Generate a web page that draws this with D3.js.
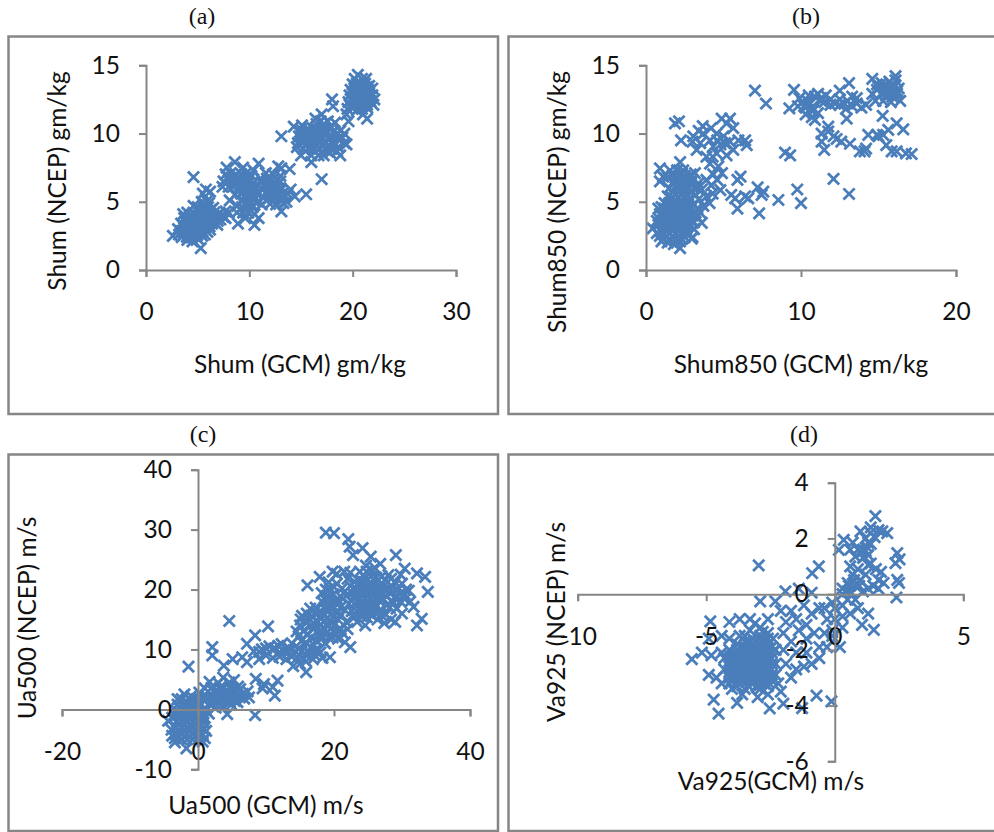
<!DOCTYPE html>
<html><head><meta charset="utf-8">
<script src="https://cdn.jsdelivr.net/npm/d3@7"></script>
<style>html,body{margin:0;padding:0;background:#fff}svg{display:block}</style>
</head><body><svg id="c" width="994" height="832"></svg>
<script>
const shumPoints=[[4.6,6.8],[5.3,1.6],[2.6,2.5],[5.8,5.9],[6.2,5.75],[8.6,7.9],[7.8,7.5],[10.9,7.8],[10.4,7.3],[13.1,9.8],[17,6.65],[15.5,5.55],[14.4,5.4],[13.9,7.4],[13.1,7.45],[12.8,7.6],[13.1,4.3],[10.5,3.3],[10.9,3.8],[8.9,3.4],[8.1,5.1],[16,7.9],[14.3,10.5],[15.1,10.6],[16.4,11.1],[17,11.4],[18,12.5],[18.1,12],[19.6,10.9],[21.4,11.1],[18.8,8.4],[19.4,9.2],[20.5,14.3],
[4,2.2],[4.5,2.1],[5,2.3],[3.2,2.6],[3.7,2.7],[4.2,2.6],[4.7,2.5],[5.2,2.7],[5.7,2.6],[3.1,3],[3.7,3.1],[4.2,3],[4.7,3.05],[5.2,3],[5.7,3.1],[6.2,2.95],[3.4,3.4],[3.9,3.45],[4.4,3.4],[4.9,3.4],[5.4,3.45],[5.9,3.35],[6.4,3.4],[6.9,3.3],[3.7,3.8],[4.2,3.85],[4.7,3.8],[5.2,3.8],[5.7,3.85],[6.2,3.75],[6.7,3.8],[7.2,3.7],[7.7,3.8],[3.6,4.1],[4,4.2],[4.6,4.2],[5.1,4.25],[5.6,4.2],[6.1,4.2],[6.6,4.2],[7.1,4.15],[7.7,4.3],[4.6,4.7],[5,4.6],[5.5,4.65],[6,4.6],[6.5,4.55],[5.4,5],[5.9,5.05],[5.5,5.6],
[7.5,6.5],[8,6.6],[8.5,6.5],[9,6.4],[9.5,6.5],[10,6.4],[7.7,7],[8.2,7.1],[8.7,7],[9.2,7.05],[9.7,7.1],[10.2,6.9],[9.4,7.5],[8.4,6.1],[9,6],[9.5,6],[10,6],[10.5,6.1],[9.2,5.6],[9.7,5.55],[10.2,5.6],[10.7,5.6],[9.4,5.1],[9.9,5.15],[10.4,5.1],[10.8,5],[8.8,4.7],[9.3,4.6],[9.8,4.7],[10.3,4.6],[9.4,4.2],[9.9,4.2],[10.5,4.1],[11.2,6.4],[11.4,5.3],[7.5,3.9],[8,4.2],
[11.2,6.6],[11.7,6.7],[12.2,6.6],[12.7,6.6],[13,6.5],[11.5,6.1],[12,6.15],[12.5,6.2],[13,6],[11.7,5.7],[12.2,5.7],[12.7,5.65],[13.2,5.6],[13.7,5.6],[11.9,5.25],[12.4,5.2],[12.9,5.2],[13.4,5.3],[12,4.85],[12.6,4.8],[13.3,4.9],
[14.8,9.8],[15.3,9.9],[15.8,9.8],[16.3,9.9],[16.8,9.8],[17.3,9.9],[17.8,9.8],[15,10.3],[15.6,10.3],[16.1,10.4],[16.6,10.3],[17.2,10.4],[17.7,10.4],[18.2,10.2],[14.7,9.3],[15.3,9.4],[15.8,9.4],[16.3,9.3],[16.8,9.4],[17.3,9.3],[18,9.4],[18.6,9.6],[19,9.7],[15.2,8.9],[15.7,8.9],[16.2,8.8],[16.8,8.9],[17.4,8.8],[18,8.9],[19.2,9.3],[15,8.4],[16.7,8.4],[17.8,8.6],[16.9,10.9],[17.6,10.9],[18.3,10.8],[18.6,9],
[19.5,11.8],[20,11.9],[20.4,11.7],[20.9,11.8],[21.4,11.9],[19.6,12.3],[20,12.4],[20.4,12.3],[20.8,12.4],[21.2,12.3],[21.7,12.4],[22,12.1],[19.7,12.8],[20.2,12.8],[20.6,12.85],[21,12.8],[21.4,12.75],[21.9,12.8],[22.1,12.5],[19.8,13.2],[20.2,13.25],[20.6,13.2],[21,13.25],[21.5,13.2],[21.9,13.3],[20,13.6],[20.4,13.65],[20.8,13.6],[21.2,13.65],[21.6,13.5],[20.2,14],[20.9,14],[21.3,14],[19.4,11.4],[21,11.4],
[3.45,2.4],[3.95,2.45],[4.45,2.4],[4.95,2.55],[5.45,2.5],[3.45,2.85],[3.95,2.85],[4.45,2.8],[4.95,2.8],[5.45,2.85],[5.95,2.8],[3.65,3.25],[4.15,3.2],[4.65,3.25],[5.15,3.2],[5.65,3.25],[6.15,3.2],[3.95,3.65],[4.45,3.6],[4.95,3.6],[5.45,3.65],[5.95,3.6],[6.45,3.6],[6.95,3.6],[4.3,4],[4.85,4],[5.35,4],[5.85,4],[6.35,4],[6.85,4],[7.4,4],[5.25,4.45],[5.75,4.4],[6.25,4.4],[5.65,4.85],[6.1,4.9],
[19.8,12],[20.2,12.1],[20.6,12.05],[21,12.05],[21.4,12.1],[19.9,12.55],[20.4,12.55],[20.8,12.6],[21.2,12.55],[21.6,12.6],[20,13],[20.4,13],[20.8,13.05],[21.2,13],[21.6,13],[20.2,13.45],[20.6,13.4],[21,13.45],[21.4,13.4],
[15.5,10],[16,10.1],[16.5,10.05],[17,10.1],[17.5,10.1],[15.1,9.6],[15.6,9.6],[16.1,9.6],[16.6,9.55],[17.1,9.6],[17.6,9.6],[15.5,9.15],[16,9.1],[16.5,9.1],[17.1,9.1],[17.7,9.1],[18.3,9.2],[16.5,10.7],[17.2,10.7],[17.9,10.5],
[8,6.8],[8.5,6.8],[9,6.75],[9.5,6.8],[10,6.7],[9.2,6.2],[9.7,6.25],[10.2,6.2],[9.5,5.8],[10,5.8],[10.4,5.85],[9.6,5.35],[10.1,5.35],[10.6,5.3],[9.6,4.9],[10.1,4.9],[11.9,6.4],[12.4,6.4],[12,5.95],[12.5,5.9],[12.9,5.8],[12.5,5.45],[13,5.45],
[14.6,9],[15,9.8],[18.4,9.9],[18.8,10.2],[19.2,10],[14.9,10.1],[18.5,8.7],[17.2,8.4],[16,8.4],[10.9,5.6],[11.1,6],[11.2,4.8],[14,5.9],[13.6,5],[13,6.9],[12.3,7],[11.6,7.1],[8,6.1],[7.4,6.1],[8.6,5.5],[8.8,4.2],[9.6,3.8]];

const shum850Points=[[7.03,13.15],[7.74,12.2],[9.55,13.2],[9.25,11.85],[8.97,8.6],[9.3,8.4],[8.54,5.13],[9.76,5.9],[10,4.9],[12.1,6.67],[13.1,5.57],[7.3,4.15],[7.2,6.05],[7.57,5.75],[7.46,5.5],[6.6,5.25],[6.4,5.4],[5.9,4.5],[5.75,5.25],[5.5,5.5],[5.9,6.6],[6.1,6.85],[4.8,5.85],[3.6,3.45],[2.95,2.3],[2.2,1.6],[0.43,3.05],
[1.87,10.75],[2.13,10.9],[2.26,9.5],[3.66,10.55],[3.4,10.2],[3.05,9.8],[3.27,8.8],[3.7,10],[4.13,9.5],[3.9,8.3],[4.34,9.05],[4.56,10],[4.88,11.1],[5.42,11.1],[5.2,10.75],[5.63,10.4],[5,9.8],[5.42,9.4],[5.63,8.8],[5.96,9.5],[6.4,9.5],[6.5,9.15],[4.56,8.55],[4.13,7.8],[4.67,7.6],[4.9,7.1],[4.34,7],[3.9,6.6],[3.16,7.1],[3.38,6.35],[3,9.4],[3.5,9.3],[4.8,9.2],[0.9,7.45],[1.1,6.85],[0.9,6.5],[1.55,7.3],[2.2,7.9],[0.8,4.5],[3.6,5.9],[3.4,5.2],[3.9,5.4],[4.1,4.9],[3.3,4.5],[3.7,4.7],[3,4],[4.3,5.6],
[1,2.1],[1.4,2],[1.8,1.9],[2.2,2.1],[2.5,2.4],[0.9,2.5],[1.3,2.5],[1.7,2.4],[2.1,2.5],[2.6,2.7],[0.9,2.9],[1.3,2.9],[1.7,2.85],[2.1,2.9],[2.6,3],[0.8,3.3],[1.2,3.3],[1.6,3.25],[2,3.3],[2.4,3.3],[2.8,3.4],[0.9,3.7],[1.3,3.7],[1.7,3.7],[2.1,3.7],[2.5,3.7],[2.9,3.6],[1,4.1],[1.4,4.1],[1.8,4.1],[2.2,4.1],[2.6,4.1],[1.2,4.5],[1.6,4.5],[2,4.5],[2.4,4.5],[2.8,4.4],[1.5,4.9],[1.9,4.9],[2.3,4.9],[2.7,4.85],[1.7,5.3],[2.1,5.3],[2.5,5.3],[2.9,5.2],[1.7,5.7],[2.1,5.7],[2.5,5.7],[2.9,5.7],[1.9,6.1],[2.3,6.1],[2.7,6.1],[1.8,6.5],[2.2,6.5],[2.6,6.5],[2.9,6.4],[1.7,6.9],[2.1,6.9],[2.5,6.9],[2.9,7],[2,7.3],[2.4,7.3],
[9.8,12],[10.1,12.3],[10.3,11.9],[10.6,12.2],[10.8,11.7],[10.3,11.4],[10.7,11.2],[10.9,11],[11.1,11.5],[9.9,12.6],[10.5,12.8],[10.9,12.7],[11.1,12.9],[11.3,12.6],[11.6,12.8],[11.5,12.3],[11.9,12.1],[12.2,12.2],[12.5,12.1],[12.8,12.2],[13,12.4],[13.3,12],[13.6,12.2],[13.9,11.9],[14.2,12.1],[12.5,13.15],[13.1,13.7],[13.3,12.7],[14.6,14],[14.6,12.9],[14.9,13.2],[15.2,12.9],[15.5,12.8],[15.9,12.7],[16.2,12.9],[16.4,12.4],[15.4,13.3],[15.7,13.3],[16,13.4],[16.3,13.3],[15.2,13.7],[15.7,13.8],[16.1,13.9],[16.1,14.2],[14.9,13.6],
[15.27,11.3],[12.95,11.1],[16.17,10.75],[16.6,10.3],[15.63,10.27],[15.3,9.9],[14.9,9.9],[14.34,9.9],[15.5,9.15],[15.85,8.7],[16.17,8.7],[16.77,8.55],[17.14,8.5],[13.8,8.7],[14.2,8.9],[13.16,9.25],[12.6,9.4],[12.1,9.8],[11.76,10.5],[11.33,10],[11.5,8.8],[11.33,9.4],[11.76,10.15],[12.3,9.6],[14.1,8.7],[15,9.8],
[1.15,2.3],[1.5,2.25],[1.9,2.2],[2.3,2.3],[1.1,2.7],[1.5,2.7],[1.9,2.65],[2.35,2.7],[1.1,3.1],[1.5,3.1],[1.9,3.1],[2.3,3.1],[2.7,3.2],[1,3.5],[1.4,3.5],[1.8,3.5],[2.2,3.5],[2.6,3.5],[1.15,3.9],[1.55,3.9],[1.95,3.9],[2.35,3.9],[2.75,3.85],[1.3,4.3],[1.7,4.3],[2.1,4.3],[2.5,4.3],[1.8,4.7],[2.2,4.7],[2.6,4.7],[1.9,5.1],[2.3,5.1],[2.7,5.1],[1.9,5.5],[2.3,5.5],[2.7,5.5],[2.1,5.9],[2.5,5.9],[2.1,6.3],[2.5,6.3],[2,6.7],[2.4,6.7],[2.3,7.1],[15.5,13.1],[15.9,13],[16.2,13.1],[15.3,13.5],[15.9,13.55],
[3,2.4],[3.1,3],[3.1,3.5],[3.2,4.2],[3.3,3.9],[3.5,4.2],[3.1,4.8],[3.2,5.5],[3.1,6],[3,6.6],[3.3,6],[0.7,2.7],[0.7,3.6],[0.9,4.1],[1,4.6],[1.2,4.9],[1.4,5.4],[1.5,6],[1.4,6.8],[10.4,12.4],[10.2,12],[10.6,11.8],[11.3,12.4],[11.9,12.5],[12.5,12.5],[12.9,11.8],[13.6,12.6],[14.8,12.4],[15.3,12.4],[15.8,12.3],[15,13.4],[4.2,10.4],[4.3,8.3],[4.6,9.5],[5.2,8.4],[5.1,9.3],[4.2,6.2],[4.6,6.6]];

const ua500Points=[[-1.4,7.15],[4.6,14.75],[2.1,10.4],[2.1,9],[10.3,13.85],[8.4,12.35],[7.2,10.95],[8.4,-0.95],[18.8,29.5],[20,29.4],[22.1,28.4],[22.3,27.15],[24.2,26.9],[29.1,25.75],[22.8,25.75],[17.9,22.1],[16.1,20.7],[33.8,19.6],[33.4,22.1],[32.2,22.7],[30.4,23.5],[32.9,15.1],[32.2,14],[31.7,17.1],[29,14.6],[22.4,10.4],[19.4,8.7],[15.9,6.2],[3.8,7.3],[6.5,8.7],[5.1,8.4],[7.2,7.9],[8.5,5.1],[9.7,4.2],[11.7,4.8],[11,3.7],[11.3,2.3],[9.5,3.5],[-1.7,-6.5],[-4.4,-1.9],[-3.4,-5.5],
[-3,1.7],[-2,2.5],[-1,2.2],[-3,0.8],[-2.2,0.9],[-1.4,1],[-0.6,0.9],[0.2,1],[-3.2,-0.2],[-2.4,-0.1],[-1.6,0],[-0.8,0],[0,-0.1],[0.8,0],[-3.3,-1.1],[-2.5,-1],[-1.7,-1],[-0.9,-1],[-0.1,-1.1],[0.7,-1],[-3.1,-2],[-2.3,-2],[-1.5,-2],[-0.7,-2],[0.1,-2.1],[-3.2,-3],[-2.4,-3],[-1.6,-3],[-0.8,-3],[0,-3],[0.8,-3.3],[-3.3,-4],[-2.5,-4],[-1.7,-4],[-0.9,-4],[-0.1,-4],[0.7,-4.2],[-3.4,-4.8],[-2.4,-5],[-1.6,-5],[-0.8,-5],[0.1,-4.9],[0.7,-5.4],
[0.2,2.8],[1,3.5],[1.7,4.6],[2.4,2],[3,2.9],[3.8,3.6],[4.5,2.8],[5.2,3.1],[5.8,2.3],[6.6,2.6],[7.3,3],[2.9,1.4],[3.6,1.9],[4.3,1.6],[5,1.8],[5.8,1.2],[1.8,0.8],[2.6,0.3],[4.3,-0.8],[3.6,0.5],[4.9,0.8],[3,4.4],[3.7,5.3],[4.6,4.5],[5.3,4.9],[4.1,2.6],[3.2,3.6],[2,3.6],[1.6,-0.7],[0.7,-1.5],[4.7,3.7],[5.9,3.8],
[8.2,9.7],[9,8.4],[9.4,10],[10,9],[10.5,10.5],[11,8.6],[11.3,10.2],[12,9.5],[12.3,10.9],[13,8.4],[13.3,9.6],[13.8,11],[14,7.2],[14.6,8.6],[15,7.6],[15.2,9.6],[15.9,8],[16.4,9.4],[16.9,8.4],[17.4,10],[18,9.5],[18.3,8.6],[14.8,12.2],[15.5,13.1],[15.1,15],
[15.3,15.6],[16,14.5],[16.7,15.6],[17,13.4],[17.6,14.6],[18,12.5],[18.6,13.5],[17.4,11.5],[18.7,11],[19.2,12],[19.9,13],[20.6,11.8],[21.2,12.8],[21.6,11.2],[16.5,16.8],[17.3,17],[18.3,16],[19,15.2],[19.8,14.5],[20.6,15],[18.4,17.8],[19.2,17.4],[20,17],[20.9,17],[18.2,19.4],[19,19],[19.9,19.2],[20.5,18.4],[21.2,20.2],[20.4,22.6],[21.5,23],[22.4,22.8],[19.8,23],
[23,17.6],[23.8,17],[24.6,16.8],[25.4,17],[26.2,17.4],[24,15.6],[24.8,15.4],[25.6,15.6],[23.4,14.6],[24.6,14],[26.4,15],[27.4,14.4],[28.4,15],[23.3,19],[24.1,19],[24.9,19],[25.7,19],[26.5,19],[27.3,18.4],[24.2,20.6],[25,20.6],[25.8,20.7],[26.6,20.4],[27.4,20],[24.6,22],[25.4,22.2],[26.2,22],[27,22.2],[28,22.4],[24.7,24],[25.4,25.5],[23.8,23],[23,21.3],[22.7,19.4],[22.2,17.6],[28.4,19.5],[29,18.5],[29.8,19.4],[30.4,18.4],[28.2,17],[29.2,16.8],[30,16],[30.6,20],[29,21.2],[29.8,22.5],[26.8,24.3],
[-2.8,0.3],[-2,0.4],[-1.2,0.4],[-0.4,0.4],[-2.8,-0.6],[-2,-0.5],[-1.2,-0.5],[-0.4,-0.6],[0.3,-0.5],[-2.7,-1.5],[-1.9,-1.5],[-1.1,-1.5],[-0.3,-1.5],[-2.7,-2.5],[-1.9,-2.5],[-1.1,-2.5],[-0.3,-2.5],[-2.8,-3.5],[-2,-3.5],[-1.2,-3.5],[-0.4,-3.5],[-2.9,-4.4],[-2,-4.5],[-1.2,-4.5],[-0.4,-4.5],[0.3,-4.5],
[3,2.2],[3.7,2.6],[4.4,2.2],[5,2.4],[5.6,2.8],[3.4,3.2],[4.2,3.2],[4.9,3.4],[2.4,2.9],[3.2,1.8],[4.7,1.2],[5.4,1.4],
[9,9.6],[10,10.2],[11,10],[11.8,10.6],[12.6,9.8],[13.4,10.2],[12,8.8],[13.8,8.8],[14.4,9.6],[15.8,9.2],[16.6,10.4],[17.2,9],
[15.8,15],[16.4,15],[16.6,14],[17.2,14.2],[18,14],[18.6,14.8],[19.2,14],[20,14],[20.8,13.4],[19.6,15.8],[20.4,16],[18,15.2],[17.6,16],[19,16.4],[19.6,16.8],[18.6,17],[19.6,18],[20.2,18],[18.8,18.2],[21,15.8],[21,13.4],[18,13],[19,12.8],[18.2,11.8],[19.8,12],[20.6,13],[19.4,20.2],[18.8,20],[20,20.4],
[23.4,18],[24.2,18],[25,18],[25.8,18],[26.6,18.2],[23.4,16.4],[24.2,16.2],[25,16.2],[25.8,16.4],[26.6,16.4],[24.4,17.2],[25.2,17.4],[26,17],[23.6,19.8],[24.4,19.8],[25.2,19.8],[26,19.8],[26.8,19.6],[24.6,21.2],[25.4,21.2],[26.2,21.2],[27,21],[24,21.4],[24.8,23],[25.6,23.2],[27.6,19],[28,20.2],[28.6,20.4],[29.4,20],[29.2,19],[29.8,18],[30.4,19.2],[28.8,17.8],
[15,14],[14.5,13],[16,12.5],[16.6,12],[15.2,11.4],[16,11],[17,10.8],[14.8,10.2],[16,16],[20.6,17.8],[21.6,16.6],[21.8,14.6],[22,13.4],[21,18.8],[21.8,19],[22.4,20.6],[22,21.8],[20.4,21],[19.2,21.2],[18.6,15.8],[19.4,14.8],[27.6,21.6],[28.4,21.8],[26,23.6],[27.8,17.4],[26.9,15.8],[27.6,15.8],[30,21],[31,19.8],[31.2,18],[23.4,20.8],[22.8,18.6],[22.6,16.4],[23,15.4],[2,2],[6.2,3.4],[6.8,1.8],[7.5,2],[1.4,2],[1,1.4],[2.4,1.2],[1.2,-0.2],[-3.8,-1.4],[-3.9,-3.4],[-3.8,-4.4],[1,-1.4],[0.8,-2.2],[1.2,-3.6],[1,-4.8],[-2.4,1.7],[-1.2,1.7],[-0.2,1.7],[0.6,1.8]];

const va925Points=[[1.58,2.8],[-2.96,1.03],[-5.56,-2.33],[-5.17,-2.1],[-4.84,-0.98],[-4.71,-3.79],[-4.52,-4.29],[-3.8,-3.9],[-2.53,-4.1],[-2,-3.93],[-1.27,-4.09],[-0.71,-3.64],[-0.13,-3.85],[1.52,-1.28],[1.06,-1.1],[2.4,-0.12],[2.43,0.51],[2.5,0.4],[2.43,1.47],[2.36,1.11],[2.04,2.19],[0.35,1.95],[0.16,1.59],[-0.62,1],[-0.88,0.75],[-1.92,0.1],[-2.31,-0.26],[-2.9,-0.26],[2.52,1.25],[1.85,2.25],
[-4.4,-1.5],[-4.9,-1.6],[-4.1,-1],[-3.7,-0.9],[-3.3,-0.9],[-3.7,-1.5],[-3.3,-1.3],[-2.9,-1.2],[-2.6,-0.9],[-4.8,-2.2],[-4.4,-2.1],[-4.9,-2.9],[-4.6,-3],[-4.4,-3.2],[-4,-3.4],[-3.6,-3.6],[-3,-3.7],[-2.6,-3.6],[-2.1,-3.5],
[-4.1,-1.6],[-4.1,-2],[-4.1,-2.4],[-4.1,-2.8],[-4.1,-3.2],[-3.8,-1.8],[-3.8,-2.2],[-3.8,-2.6],[-3.8,-3],[-3.8,-3.3],[-3.5,-1.5],[-3.5,-1.9],[-3.5,-2.3],[-3.5,-2.7],[-3.5,-3.1],[-3.5,-3.4],[-3.2,-1.6],[-3.2,-2],[-3.2,-2.4],[-3.2,-2.8],[-3.2,-3.2],[-2.9,-1.5],[-2.9,-1.9],[-2.9,-2.3],[-2.9,-2.7],[-2.9,-3.1],[-2.9,-3.4],[-2.6,-1.4],[-2.6,-1.8],[-2.6,-2.2],[-2.6,-2.6],[-2.6,-3],[-2.6,-3.3],[-2.3,-2],[-2.3,-2.5],[-2.3,-2.9],[-2.4,-1.6],[-2.2,-3.2],
[-2.1,-0.6],[-1.9,-1],[-2,-1.4],[-1.7,-0.6],[-1.5,-0.9],[-1.2,-0.4],[-0.9,-0.7],[-1.4,-1.3],[-1.7,-1.7],[-2,-2],[-1.9,-2.5],[-1.5,-2.1],[-1.1,-1.6],[-0.8,-1.4],[-0.6,-1.9],[-1.1,-2.1],[-1.5,-2.7],[-1.2,-2.6],[-0.9,-2.5],[-0.6,-2.3],[-0.3,-1.9],[-0.1,-1.5],[-0.4,-1.4],[-1.7,-3],[-1.1,-1.1],[-0.6,-0.5],[-1.4,0.2],[-0.9,0.05],[-0.1,-0.3],
[-0.4,-0.5],[0,-0.5],[0.3,-0.4],[-0.3,-0.9],[0,-0.9],[0.3,-0.8],[-0.1,-1.3],[0.3,-1.2],[-0.1,-1.7],[0.3,0],[0.6,-0.7],[0.9,-0.5],[1.3,-0.7],[0.2,-1.9],
[0.3,0.2],[0.5,0.1],[0.5,0.4],[0.8,0.3],[1,0.5],[0.7,0.7],[0.9,0.9],[0.6,1],[1.1,0.1],[0.8,-0.2],[1.3,0.2],[1.2,0.7],[0.5,-0.2],[1.3,1.05],[1.6,0.9],[1.8,0.8],[1.5,0.3],[1.7,0.2],[1.9,0.4],[1.7,0.5],
[0.6,1.6],[0.9,1.6],[1.1,1.6],[1.3,1.4],[0.8,1.35],[1.1,1.3],[1.4,1.1],[1.4,1.8],[1.2,2],[1.4,2.2],[1,2.25],[1.4,2.4],[1.7,2.3],[1.55,2.05],[1.25,1.7],[0.7,1.85],
[-3.95,-2.2],[-3.95,-2.6],[-3.95,-3],[-3.65,-1.9],[-3.65,-2.3],[-3.65,-2.7],[-3.65,-3.1],[-3.35,-1.7],[-3.35,-2.1],[-3.35,-2.5],[-3.35,-2.9],[-3.35,-3.3],[-3.05,-1.7],[-3.05,-2.1],[-3.05,-2.5],[-3.05,-2.9],[-3.05,-3.3],[-2.75,-1.6],[-2.75,-2],[-2.75,-2.4],[-2.75,-2.8],[-2.75,-3.2],[-2.45,-1.9],[-2.45,-2.3],[-2.45,-2.7],[-2.45,-3.1],[-4.3,-2.3],[-4.3,-2.7],[-3.1,-1.05],[-2.8,-1.35],
[0.55,0.3],[0.75,0.5],[0.95,0.3],[0.65,0.05],[1.05,1.5],[1.2,1.55],[1.3,1.85],
[-3.8,-2],[-3.8,-2.4],[-3.8,-2.8],[-3.8,-3.15],[-3.5,-1.7],[-3.5,-2.1],[-3.5,-2.5],[-3.5,-2.9],[-3.2,-1.8],[-3.2,-2.2],[-3.2,-2.6],[-3.2,-3],[-2.9,-1.7],[-2.9,-2.1],[-2.9,-2.5],[-2.9,-2.9],[-2.9,-3.25],[-2.6,-1.6],[-2.6,-2],[-2.6,-2.4],[-2.6,-2.8],[-2.6,-3.15],[-4.1,-2.2],[-4.1,-2.6],[-4.1,-3],[-3.65,-2.1],[-3.65,-2.5],[-3.65,-2.9],[-3.35,-1.9],[-3.35,-2.3],[-3.35,-2.7],[-3.35,-3.1],[-3.05,-1.9],[-3.05,-2.3],[-3.05,-2.7],[-3.05,-3.1],[-2.75,-1.8],[-2.75,-2.2],[-2.75,-2.6],[-2.75,-3],[-2.45,-2.1],[-2.45,-2.5],[-2.45,-2.9],[-3.95,-2.4],[-3.95,-2.8]];

const frameColor="#868686",markColor="#4a7ebb",textColor="#111";
const panels=[
 {tag:"(a)",tagX:202,tagY:24,frame:[8.5,36.5,489.5,377.5],xRange:[146,456],xDomain:[0,30],xTicks:[0,10,20,30],yRange:[270,65.3],yDomain:[0,15],yTicks:[0,5,10,15],xTitle:"Shum (GCM) gm/kg",xtX:300,xtY:373,yTitle:"Shum (NCEP) gm/kg",ytX:66,ytY:181,points:shumPoints},
 {tag:"(b)",tagX:806,tagY:24,frame:[508.5,36.5,500,377.5],xRange:[646,956],xDomain:[0,20],xTicks:[0,10,20],yRange:[270,65.3],yDomain:[0,15],yTicks:[0,5,10,15],xTitle:"Shum850 (GCM) gm/kg",xtX:801,xtY:373,yTitle:"Shum850 (NCEP) gm/kg",ytX:566,ytY:202,points:shum850Points},
 {tag:"(c)",tagX:203,tagY:442,frame:[8.5,454.5,489.5,376.5],xRange:[62,470],xDomain:[-20,40],xTicks:[-20,0,20,40],yRange:[769.3,469.7],yDomain:[-10,40],yTicks:[-10,0,10,20,30,40],xTitle:"Ua500 (GCM) m/s",xtX:266,xtY:814,yTitle:"Ua500 (NCEP) m/s",ytX:36,ytY:618,points:ua500Points},
 {tag:"(d)",tagX:804,tagY:442,frame:[508.5,454.5,500,376.5],xRange:[577.7,963.3],xDomain:[-10,5],xTicks:[-10,-5,0,5],yRange:[761.3,482.7],yDomain:[-6,4],yTicks:[-6,-4,-2,0,2,4],xTitle:"Va925(GCM) m/s",xtX:771,xtY:790,yTitle:"Va925 (NCEP) m/s",ytX:565,ytY:622,points:va925Points}
];
const svg=d3.select("#c");
const FS=24.5;
panels.forEach(p=>{
 const g=svg.append("g");
 g.append("rect").attr("x",p.frame[0]).attr("y",p.frame[1]).attr("width",p.frame[2]).attr("height",p.frame[3]).attr("fill","#fff").attr("stroke",frameColor).attr("stroke-width",2.5);
 g.append("text").text(p.tag).attr("x",p.tagX).attr("y",p.tagY).attr("text-anchor","middle").attr("font-family","'Liberation Serif',serif").attr("font-size",24).attr("fill","#111");
 const x=d3.scaleLinear().domain(p.xDomain).range(p.xRange);
 const y=d3.scaleLinear().domain(p.yDomain).range(p.yRange);
 const fmt=d=>String(d);
 const xA=g.append("g").attr("transform",`translate(0,${y(0)})`).call(d3.axisBottom(x).tickValues(p.xTicks).tickFormat(fmt).tickSizeOuter(0).tickSize(7).tickPadding(26));
 const yA=g.append("g").attr("transform",`translate(${x(0)},0)`).call(d3.axisLeft(y).tickValues(p.yTicks).tickFormat(fmt).tickSizeOuter(0).tickSize(7).tickPadding(19));
 [xA,yA].forEach(a=>{a.attr("font-family","Lato,sans-serif").attr("font-size",FS);a.selectAll("path,line").attr("stroke",frameColor).attr("stroke-width",2);a.selectAll("text").attr("fill",textColor);});
 const cross=d3.symbol().type(d3.symbolTimes).size(84);
 const marks=g.append("g");
 marks.selectAll("path").data(p.points).join("path").attr("d",()=>cross()).attr("transform",d=>`translate(${x(d[0])},${y(d[1])})`).attr("fill","none").attr("stroke",markColor).attr("stroke-width",2.8);
 xA.raise();yA.raise();
 g.append("text").text(p.xTitle).attr("x",p.xtX).attr("y",p.xtY).attr("text-anchor","middle").attr("font-family","Lato,sans-serif").attr("font-size",FS).attr("fill",textColor);
 g.append("text").text(p.yTitle).attr("transform",`translate(${p.ytX},${p.ytY}) rotate(-90)`).attr("text-anchor","middle").attr("font-family","Lato,sans-serif").attr("font-size",FS).attr("fill",textColor);
});
</script></body></html>
